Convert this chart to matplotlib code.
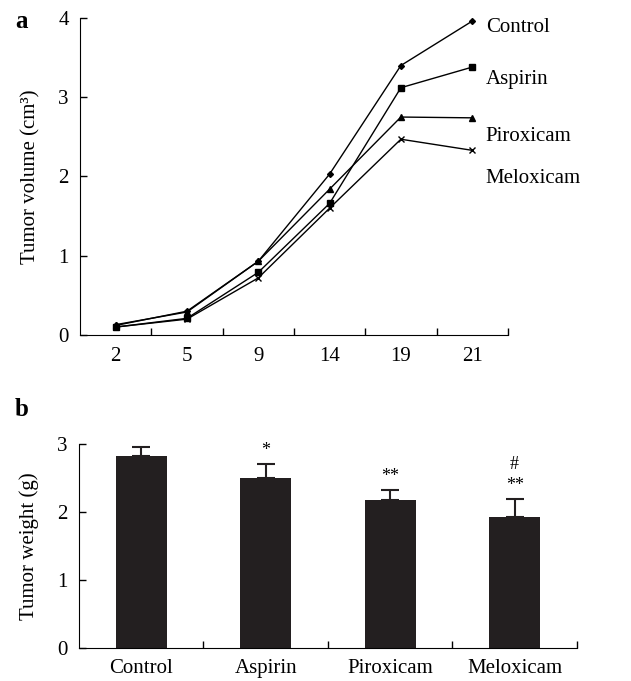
import matplotlib
matplotlib.use('Agg')
import matplotlib.pyplot as plt
import numpy as np

plt.rcParams['font.family'] = ['Liberation Serif', 'DejaVu Serif']

days = ['2', '5', '9', '14', '19', '21']
control = [0.12, 0.30, 0.93, 2.03, 3.40, 3.96]
aspirin = [0.10, 0.21, 0.79, 1.66, 3.12, 3.38]
piroxicam = [0.13, 0.29, 0.93, 1.84, 2.75, 2.74]
meloxicam = [0.10, 0.20, 0.72, 1.60, 2.47, 2.33]

groups = ['Control', 'Aspirin', 'Piroxicam', 'Meloxicam']
weight = [2.83, 2.50, 2.18, 1.92]
weight_err = [0.12, 0.20, 0.14, 0.27]
signif = ['', '*', '**', '#\n**']

fig = plt.figure(figsize=(6.31, 6.81), dpi=100)
fs = 15

# panel a
ax1 = fig.add_axes([0.1268, 0.5081, 0.678, 0.4655])
x = np.arange(len(days))
lines = [(control, 'D', 3), (aspirin, 's', 4), (piroxicam, '^', 4.5), (meloxicam, 'x', 4.5)]
for vals, m, ms in lines:
    ax1.plot(x, vals, color='black', lw=1, marker=m, ms=ms, mew=1, clip_on=False)
ax1.set_xlim(-0.5, len(days) - 0.5)
ax1.set_ylim(0, 4)
ax1.set_yticks([0, 1, 2, 3, 4])
ax1.set_xticks(x)
ax1.set_xticklabels(days)
ax1.set_xticks(np.arange(0.5, len(days)), minor=True)
ax1.tick_params(axis='x', which='major', length=0, labelsize=fs, pad=9)
ax1.tick_params(axis='x', which='minor', direction='in', length=5, width=1)
ax1.tick_params(axis='y', direction='in', length=5, width=1, labelsize=fs, pad=8)
ax1.spines['top'].set_visible(False)
ax1.spines['right'].set_visible(False)
ax1.set_ylabel('Tumor volume (cm³)', fontsize=fs, labelpad=13)
label_y = [3.88, 3.22, 2.50, 1.98]
for name, ly in zip(groups, label_y):
    ax1.text(5.19, ly, name, fontsize=fs, va='center', ha='left', clip_on=False)
fig.text(0.024, 0.968, 'a', fontsize=18, fontweight='bold', va='center')

# panel b
ax2 = fig.add_axes([0.1252, 0.0485, 0.789, 0.2996])
xb = np.arange(len(groups))
ax2.bar(xb, weight, width=0.41, color='#231f20', yerr=[np.zeros(4), weight_err],
        error_kw=dict(ecolor='#231f20', elinewidth=1.5, capsize=6.5, capthick=1.5))
for i, s in enumerate(signif):
    if s:
        ax2.text(i, weight[i] + weight_err[i] + 0.08, s, ha='center', va='bottom',
                 fontsize=13, linespacing=1.3)
ax2.set_xlim(-0.5, len(groups) - 0.5)
ax2.set_ylim(0, 3)
ax2.set_yticks([0, 1, 2, 3])
ax2.set_xticks(xb)
ax2.set_xticklabels(groups)
ax2.set_xticks(np.arange(0.5, len(groups)), minor=True)
ax2.tick_params(axis='x', which='major', length=0, labelsize=fs, pad=8)
ax2.tick_params(axis='x', which='minor', direction='in', length=5, width=1)
ax2.tick_params(axis='y', direction='in', length=5, width=1, labelsize=fs, pad=8)
ax2.spines['top'].set_visible(False)
ax2.spines['right'].set_visible(False)
ax2.set_ylabel('Tumor weight (g)', fontsize=fs, labelpad=13)
fig.text(0.024, 0.398, 'b', fontsize=18, fontweight='bold', va='center')

fig.savefig('out.png', dpi=100)
